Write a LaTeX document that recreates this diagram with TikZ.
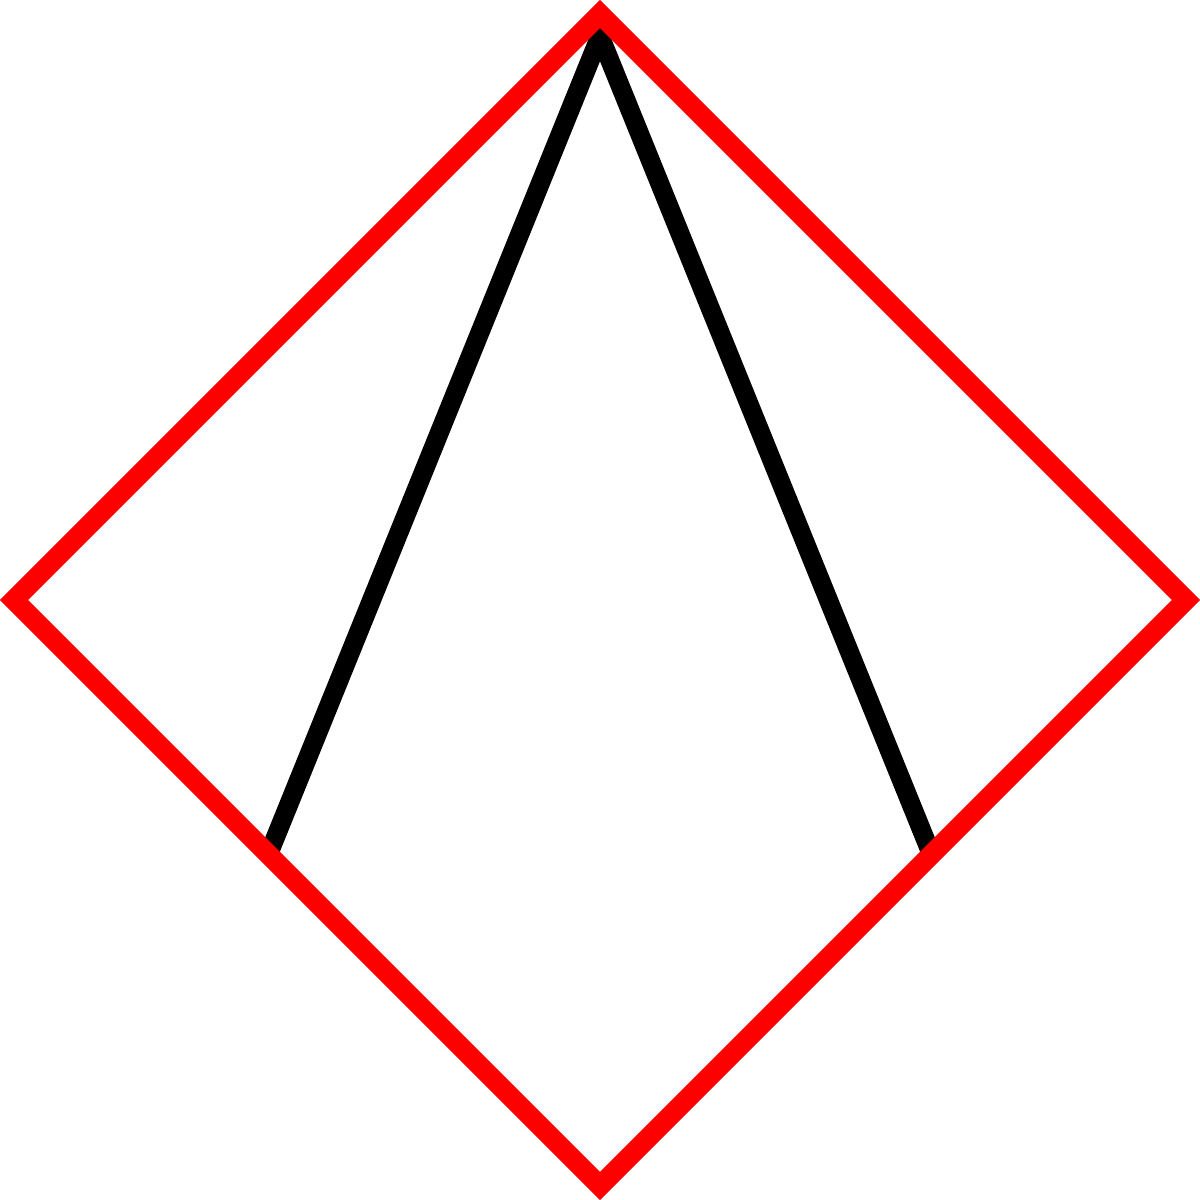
\documentclass[tikz,border=0pt]{standalone}
\usepackage{tikz}
\tikzset{
    edge/.style={draw=red, line width=0.2cm, line join=miter},
    ray/.style={draw=black, line width=0.19cm, line join=miter},
}
\begin{document}
\begin{tikzpicture}
    \useasboundingbox (0,0) rectangle (12,12);
    % diamond corners
    \coordinate (top)    at (6,11.86);
    \coordinate (right)  at (11.86,6);
    \coordinate (bottom) at (6,0.14);
    \coordinate (left)   at (0.14,6);
    % black lines first, red on top
    \coordinate (apex)   at (6,11.64);
    \coordinate (footl)  at (2.685,3.455);
    \coordinate (footr)  at (9.315,3.455);
    \draw[ray] (footl) -- (apex) -- (footr);
    \draw[edge] (top) -- (right) -- (bottom) -- (left) -- cycle;
\end{tikzpicture}
\end{document}
